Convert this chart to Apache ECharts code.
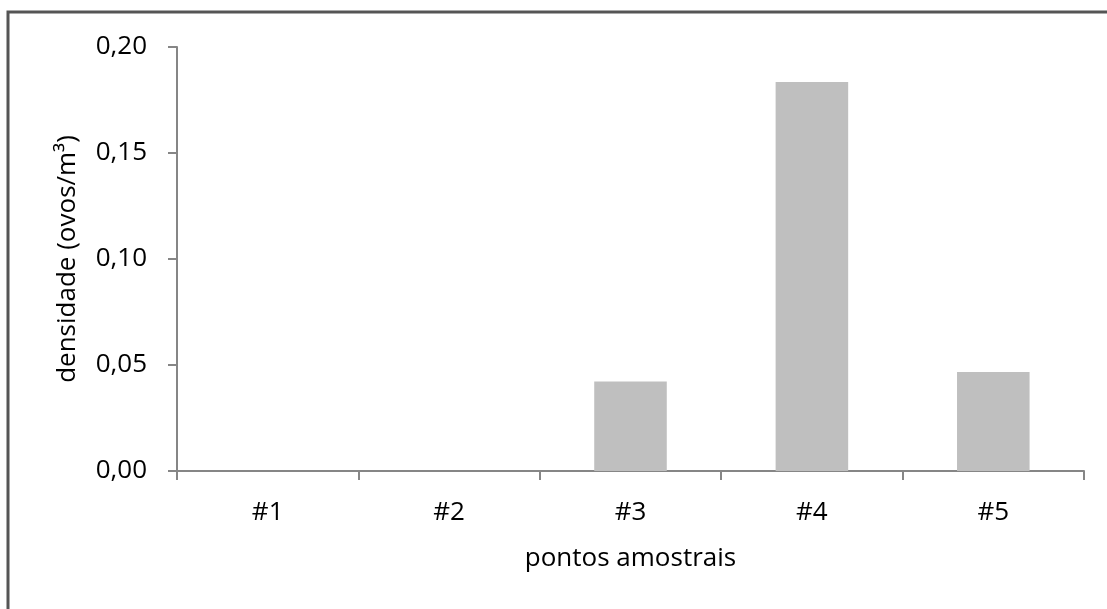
<!DOCTYPE html>
<html>
<head>
<meta charset="utf-8">
<script src="https://cdn.jsdelivr.net/npm/echarts@6/dist/echarts.min.js"></script>
<style>
html,body{margin:0;padding:0;background:#fff;}
#chart{width:1107px;height:609px;}
</style>
</head>
<body>
<div id="chart"></div>
<script>
const categories = ['#1', '#2', '#3', '#4', '#5'];
const densidade = [0, 0, 0.0422, 0.1835, 0.0467];
const yTickLabels = ['0,00', '0,05', '0,10', '0,15', '0,20'];
const xAxisTitle = 'pontos amostrais';
const yAxisTitle = 'densidade (ovos/m³)';

const FONT = '"Open Sans", sans-serif';
const chart = echarts.init(document.getElementById('chart'), null, {renderer: 'canvas'});
chart.setOption({
  animation: false,
  backgroundColor: '#ffffff',
  graphic: [{
    type: 'rect',
    shape: {x: 8, y: 12, width: 1300, height: 800},
    style: {fill: 'none', stroke: '#555555', lineWidth: 3},
    silent: true
  }],
  grid: {left: 177, right: 23, top: 47, bottom: 138, containLabel: false},
  xAxis: {
    type: 'category',
    data: categories,
    name: xAxisTitle,
    nameLocation: 'middle',
    nameGap: 75,
    nameTextStyle: {fontFamily: FONT, fontSize: 26, color: '#000'},
    axisLine: {lineStyle: {color: '#868686', width: 2}},
    axisTick: {show: true, length: 9, lineStyle: {color: '#868686', width: 2}},
    axisLabel: {fontFamily: FONT, fontSize: 26, color: '#000', margin: 29},
    splitLine: {show: false}
  },
  yAxis: {
    type: 'value',
    min: 0,
    max: 0.2,
    interval: 0.05,
    name: yAxisTitle,
    nameLocation: 'middle',
    nameGap: 96,
    nameRotate: 90,
    nameTextStyle: {fontFamily: FONT, fontSize: 26, color: '#000'},
    axisLine: {show: true, lineStyle: {color: '#868686', width: 2}},
    axisTick: {show: true, length: 9, lineStyle: {color: '#868686', width: 2}},
    axisLabel: {
      fontFamily: FONT, fontSize: 26, color: '#000', margin: 30,
      formatter: function (v) { return yTickLabels[Math.round(v / 0.05)]; }
    },
    splitLine: {show: false}
  },
  series: [{
    type: 'bar',
    data: densidade,
    barWidth: '40%',
    itemStyle: {color: '#bfbfbf', borderWidth: 0}
  }]
});
</script>
</body>
</html>
